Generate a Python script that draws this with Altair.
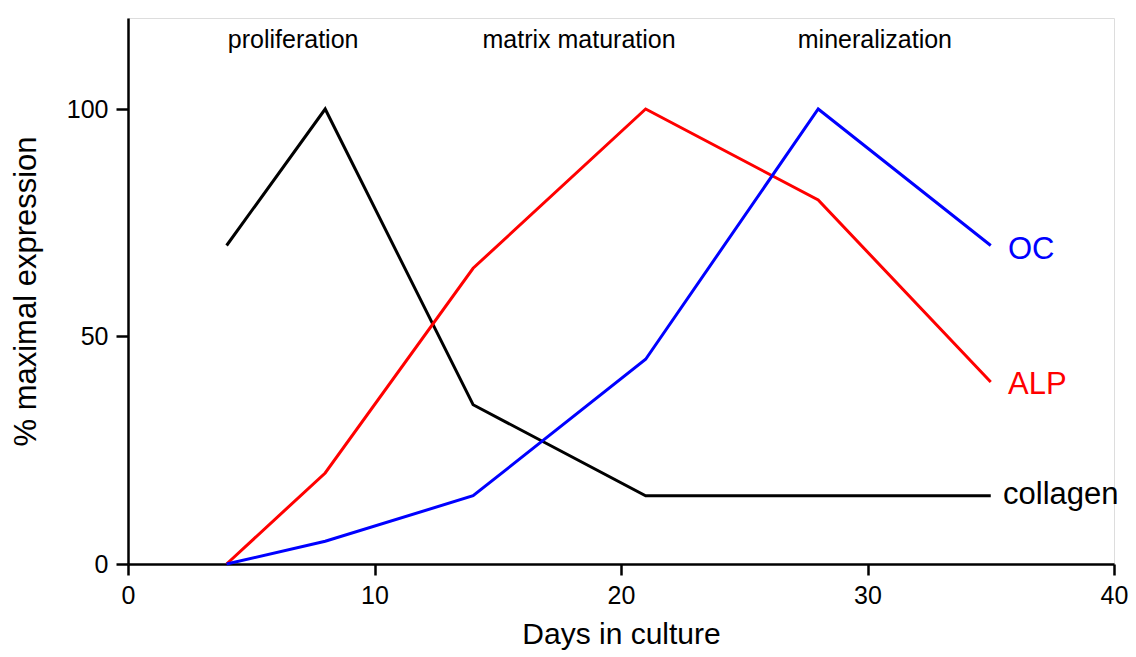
import altair as alt
import pandas as pd

days = [4, 8, 14, 21, 28, 35]
collagen = [70, 100, 35, 15, 15, 15]
alp = [0, 20, 65, 100, 80, 40]
oc = [0, 5, 15, 45, 100, 70]

series_names = ["collagen", "ALP", "OC"]
series_colors = ["#000000", "#ff0000", "#0000ff"]

label_x = [35.5, 35.7, 35.7]
label_y = [15.2, 39.3, 69.0]

phase_names = ["proliferation", "matrix maturation", "mineralization"]
phase_x = [6.7, 18.3, 30.3]
phase_y = [115.2, 115.2, 115.2]

rows = []
for name, vals in zip(series_names, [collagen, alp, oc]):
    for d, v in zip(days, vals):
        rows.append({"day": d, "value": v, "series": name})
df = pd.DataFrame(rows)

lab_df = pd.DataFrame({"series": series_names, "x": label_x, "y": label_y})
phase_df = pd.DataFrame({"name": phase_names, "x": phase_x, "y": phase_y})

color_scale = alt.Scale(domain=series_names, range=series_colors)
xs = alt.Scale(domain=[0, 40], nice=False, zero=False)
ys = alt.Scale(domain=[0, 120], nice=False)

FONT = "Liberation Sans"

lines = alt.Chart(df).mark_line(strokeWidth=3).encode(
    x=alt.X("day:Q", scale=xs, title="Days in culture",
            axis=alt.Axis(values=[0, 10, 20, 30, 40], grid=False, tickSize=11,
                          tickWidth=2.5, domainWidth=2.5, domainColor="black", tickColor="black",
                          labelFontSize=25, labelColor="black", labelPadding=8, labelFlush=False,
                          titleFontSize=30, titleFontWeight="normal", titleColor="black",
                          titlePadding=11, labelFont=FONT, titleFont=FONT)),
    y=alt.Y("value:Q", scale=ys, title="% maximal expression",
            axis=alt.Axis(values=[0, 50, 100], grid=False, tickSize=12,
                          tickWidth=2.5, domainWidth=2.5, domainColor="black", tickColor="black",
                          labelFontSize=25, labelColor="black", labelPadding=8, labelFlush=False,
                          titleFontSize=31, titleFontWeight="normal", titleColor="black",
                          titlePadding=24, labelFont=FONT, titleFont=FONT)),
    color=alt.Color("series:N", scale=color_scale, legend=None),
    detail="series:N",
)

labels = alt.Chart(lab_df).mark_text(align="left", baseline="middle", fontSize=31,
                                     font=FONT).encode(
    x=alt.X("x:Q", scale=xs),
    y=alt.Y("y:Q", scale=ys),
    text="series:N",
    color=alt.Color("series:N", scale=color_scale, legend=None),
)

phases = alt.Chart(phase_df).mark_text(align="center", baseline="middle", fontSize=25,
                                       font=FONT, color="black").encode(
    x=alt.X("x:Q", scale=xs),
    y=alt.Y("y:Q", scale=ys),
    text="name:N",
)

chart = alt.layer(lines, labels, phases).properties(
    width=986, height=546,
    autosize=alt.AutoSizeParams(type="none"),
    padding={"left": 120, "top": 10, "right": 14, "bottom": 92},
).configure_view(stroke=None).configure(font=FONT)

chart.save("out.html", embed_options={"renderer": "svg", "actions": False})
